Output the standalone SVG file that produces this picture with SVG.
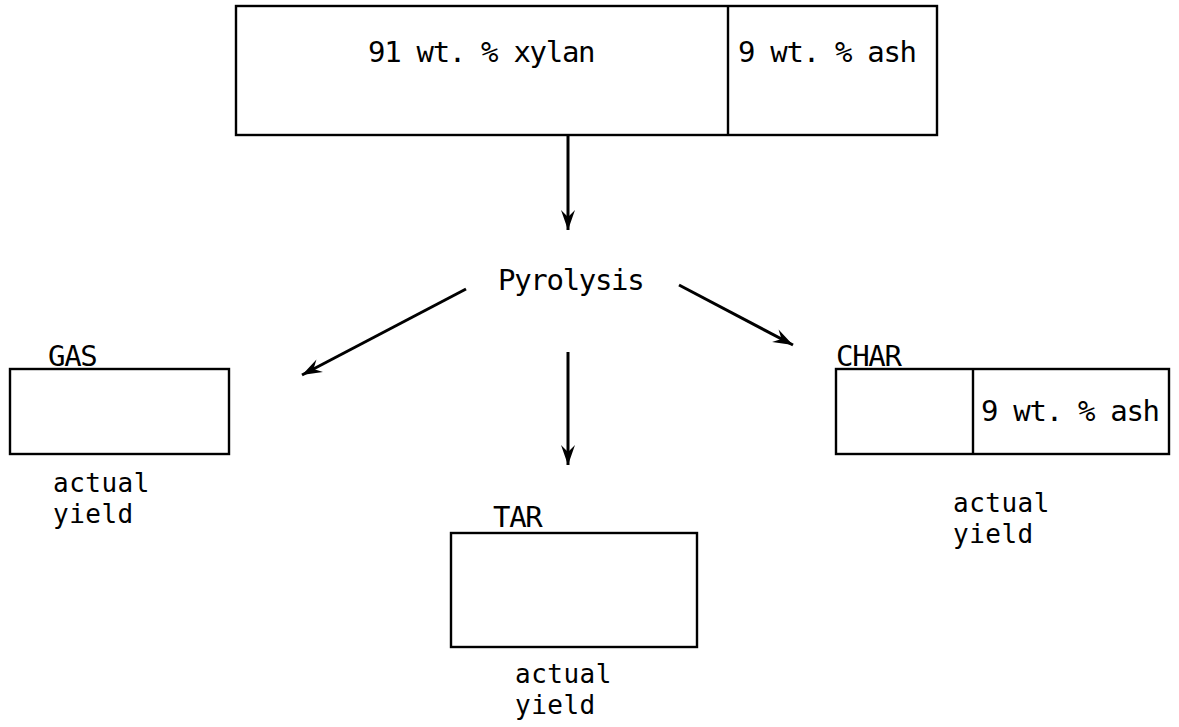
<svg xmlns="http://www.w3.org/2000/svg" width="1179" height="727" viewBox="0 0 1179 727">
<style>
.box{fill:none;stroke:#000;stroke-width:2.4}
.t{font-family:"DejaVu Sans Mono","Liberation Mono",monospace;font-size:29px;letter-spacing:-1.3px;fill:#000}
.y{font-family:"DejaVu Sans Mono","Liberation Mono",monospace;font-size:26px;letter-spacing:0.5px;fill:#000}
.c{stroke:#000;stroke-width:3;fill:none}
</style>
<defs>
<marker id="ah" markerUnits="userSpaceOnUse" markerWidth="24" markerHeight="16" viewBox="-22 -8 24 16" refX="0" refY="0" orient="auto">
<path d="M0,0 L-20,-7 L-13,0 L-20,7 Z" fill="#000"/>
</marker>
</defs>
<rect width="1179" height="727" fill="#fff"/>
<g id="feed">
<rect class="box" x="236" y="6" width="701" height="129"/>
<line class="box" x1="728" y1="6" x2="728" y2="135"/>
<text class="t" x="368" y="62">91 wt. % xylan</text>
<text class="t" x="738" y="62">9 wt. % ash</text>
</g>
<g id="pyrolysis">
<text class="t" x="498" y="290">Pyrolysis</text>
</g>
<g id="gas">
<text class="t" x="48" y="366">GAS</text>
<rect class="box" x="10" y="369" width="219" height="85"/>
<text class="y" x="53" y="492">actual</text>
<text class="y" x="53" y="523">yield</text>
</g>
<g id="tar">
<text class="t" x="493" y="527">TAR</text>
<rect class="box" x="451" y="533" width="246" height="114"/>
<text class="y" x="515" y="683">actual</text>
<text class="y" x="515" y="714">yield</text>
</g>
<g id="char">
<text class="t" x="836" y="366">CHAR</text>
<rect class="box" x="836" y="369" width="333" height="85"/>
<line class="box" x1="973" y1="369" x2="973" y2="454"/>
<text class="t" x="981" y="421">9 wt. % ash</text>
<text class="y" x="953" y="512">actual</text>
<text class="y" x="953" y="543">yield</text>
</g>
<g id="connectors">
<line class="c" x1="568" y1="135" x2="568" y2="230" marker-end="url(#ah)"/>
<line class="c" x1="466" y1="289" x2="302" y2="375" marker-end="url(#ah)"/>
<line class="c" x1="679" y1="285" x2="793" y2="345" marker-end="url(#ah)"/>
<line class="c" x1="568" y1="352" x2="568" y2="465" marker-end="url(#ah)"/>
</g>
</svg>
